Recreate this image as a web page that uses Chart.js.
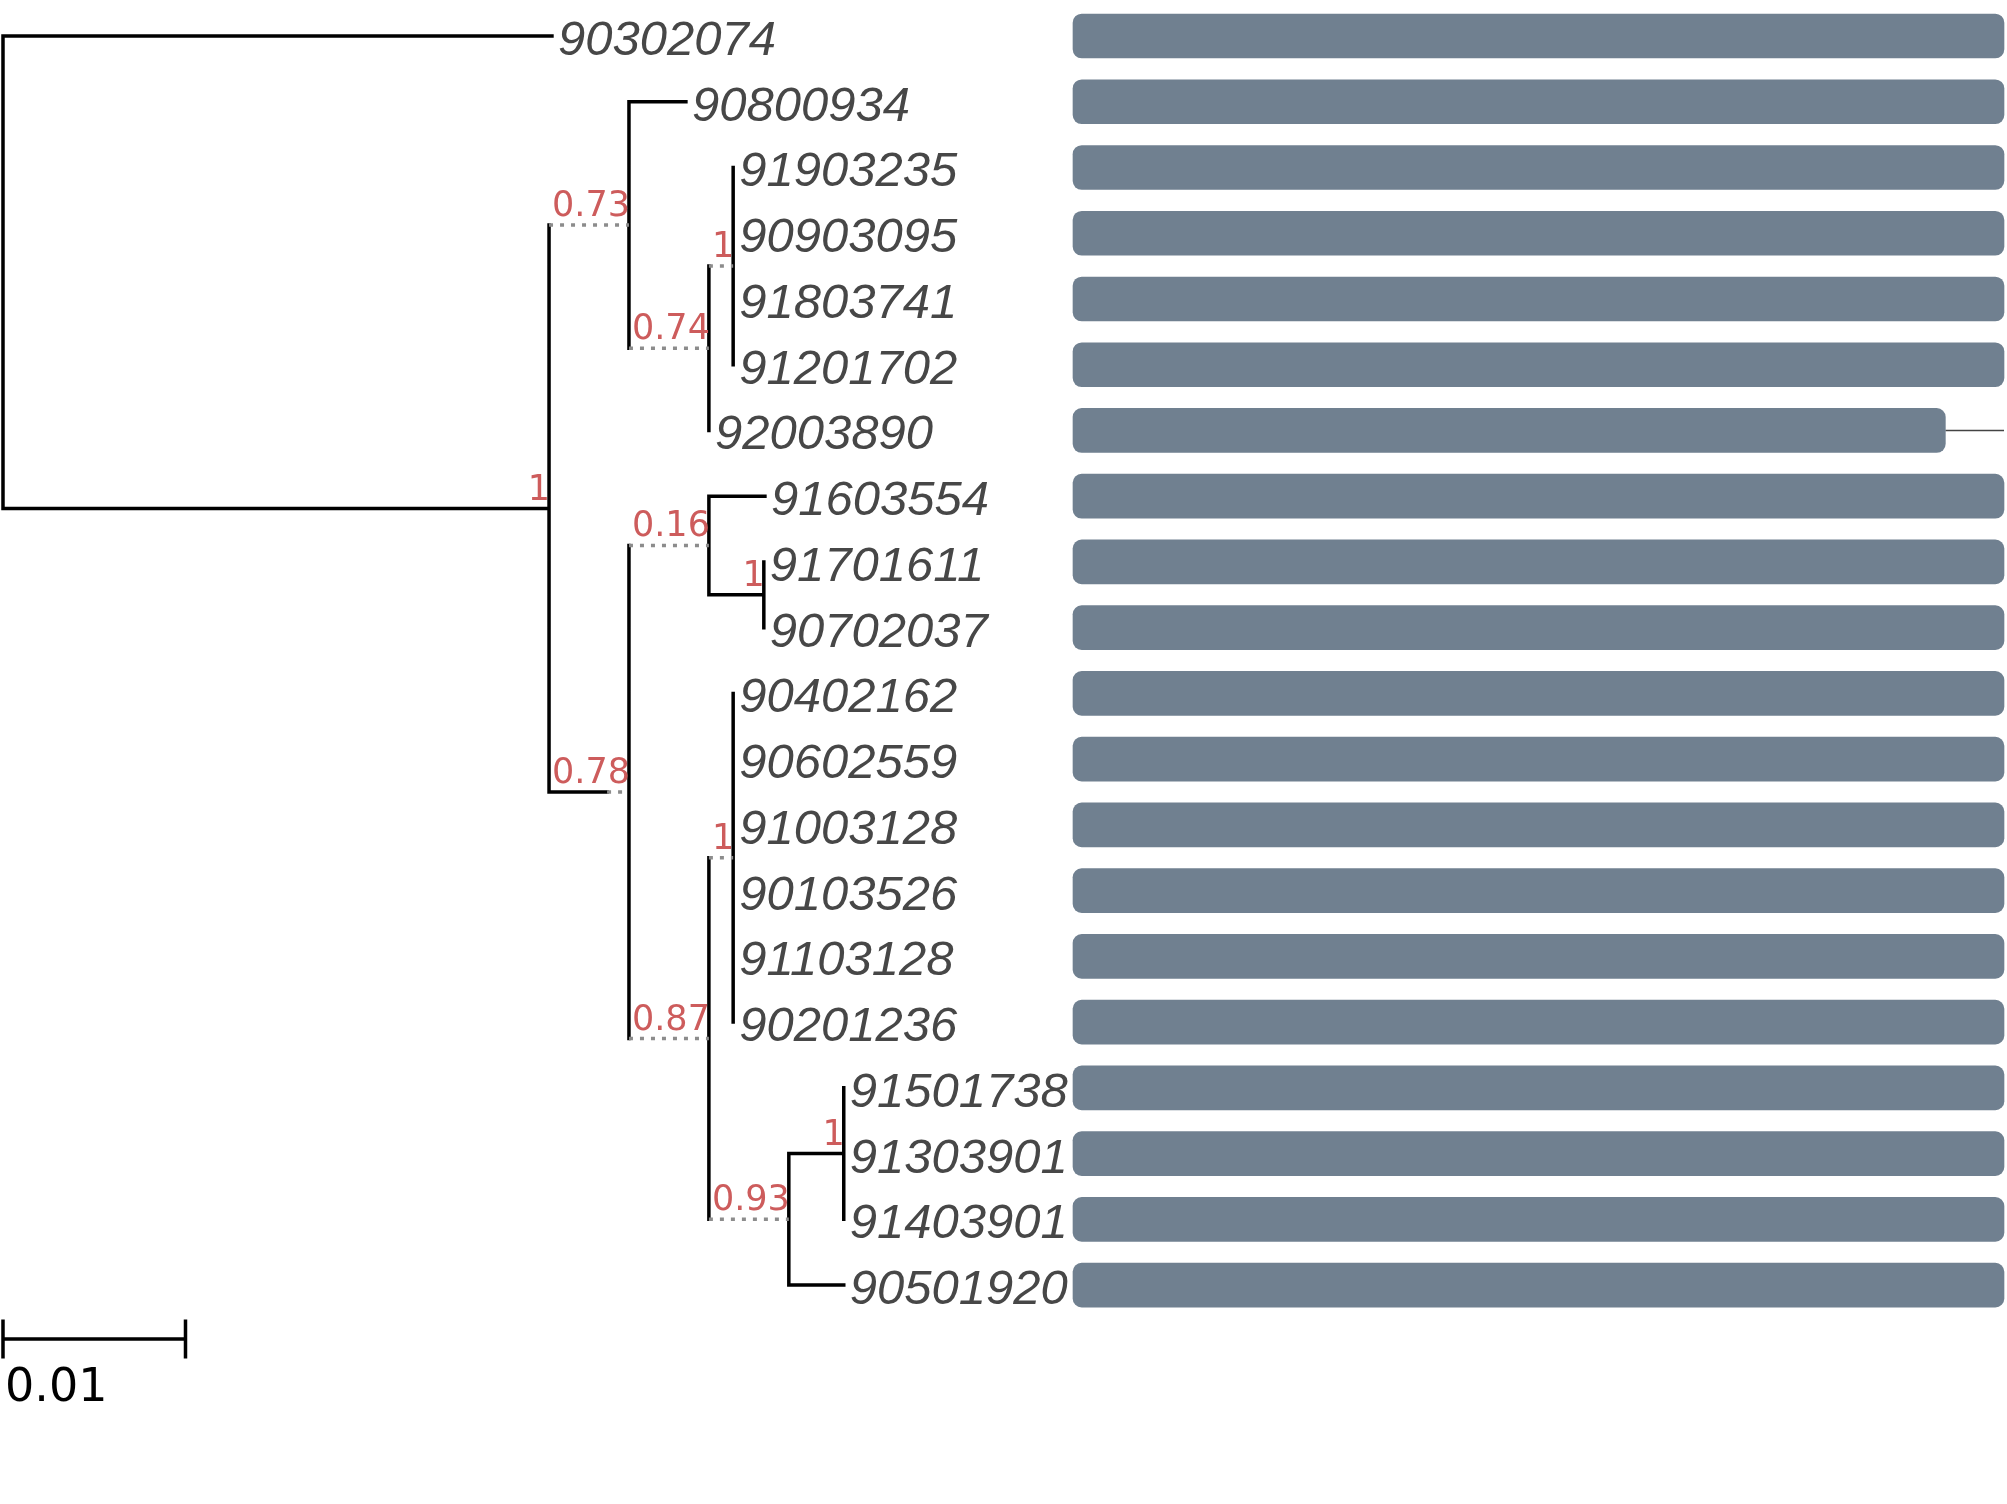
<!DOCTYPE html>
<html>
<head>
<meta charset="utf-8">
<script src="https://cdn.jsdelivr.net/npm/chart.js@4.4.1/dist/chart.umd.min.js"></script>
<style>
  html, body { margin: 0; padding: 0; background: #fff; }
  #wrap { width: 2007px; height: 1504px; position: relative; }
</style>
</head>
<body>
<div id="wrap"><canvas id="tree"></canvas></div>
<script>
// tips, top to bottom
const tipNames = ['90302074', '90800934', '91903235', '90903095', '91803741', '91201702', '92003890',
    '91603554', '91701611', '90702037', '90402162', '90602559', '91003128', '90103526', '91103128',
    '90201236', '91501738', '91303901', '91403901', '90501920'];
const tipParent = ['root', 'B', 'D', 'D', 'D', 'D', 'C', 'F', 'G', 'G', 'I', 'I', 'I', 'I', 'I', 'I',
    'K', 'K', 'K', 'J'];
const tipBranch = [0.03008, 0.00312, 0, 0, 0, 0, 0, 0.00307, 0, 0, 0, 0, 0, 0, 0, 0, 0, 0, 0, 0.00301];

// internal nodes (parents listed before children)
const nodeNames = ['root', 'A', 'B', 'C', 'D', 'E', 'F', 'G', 'H', 'I', 'J', 'K'];
const nodeParent = [null, 'root', 'A', 'B', 'C', 'A', 'E', 'F', 'E', 'H', 'H', 'J'];
const nodeBranch = [0, 0.02992, 0, 0, 0, 0.00318, 0, 0.00301, 0, 0, 0, 0.00301];
const nodeSupport = [null, 1, 0.73, 0.74, 1, 0.78, 0.16, 1, 0.87, 1, 0.93, 1];

// bar beside each tip (fraction of full length)
const barValues = [1, 1, 1, 1, 1, 1, 0.937, 1, 1, 1, 1, 1, 1, 1, 1, 1, 1, 1, 1, 1];
const barMax = 1;

const scaleBarLength = 0.01;
const scaleBarLabel = '0.01';

// axis ranges so the tree, bars and scale bar land where they should
const X_MIN = -0.000164, X_MAX = 0.109808;
const X2_MIN = -1.15252, X2_MAX = 1.003222;
const Y_MIN = -0.5476, Y_MAX = 22.330;
const SCALE_BAR_Y = 19.82;

const W = 2007;
const pxPerUnit = W / (X_MAX - X_MIN);
const SUPPORT_FONT = '35px "DejaVu Sans"';

// width of a support label, in branch length units (the branch is stretched to fit it)
const measureCtx = document.createElement('canvas').getContext('2d');
function supportPad(s) {
    if (s === null) return 0;
    measureCtx.font = SUPPORT_FONT;
    return (measureCtx.measureText(String(s)).width + 2) / pxPerUnit;
}

const nodeX = {}, nodeY = {};
nodeNames.forEach((n, i) => {
    const p = nodeParent[i];
    nodeX[n] = p === null ? 0 : nodeX[p] + Math.max(nodeBranch[i], supportPad(nodeSupport[i]));
});
const tipX = tipNames.map((t, i) => nodeX[tipParent[i]] + tipBranch[i]);

// y of a node = middle of its first and last child
const childSpan = {};
for (let i = nodeNames.length - 1; i >= 0; i--) {
    const n = nodeNames[i];
    const ys = [];
    tipParent.forEach((p, t) => { if (p === n) ys.push(t); });
    nodeParent.forEach((p, k) => { if (p === n) ys.push(nodeY[nodeNames[k]]); });
    const lo = Math.min(...ys), hi = Math.max(...ys);
    childSpan[n] = [lo, hi];
    nodeY[n] = (lo + hi) / 2;
}

const solid = [], dotted = [];
const gap = { x: NaN, y: NaN };
function addChild(parent, x, y, branch) {
    const px = nodeX[parent];
    if (branch > 0) solid.push({ x: px, y: y }, { x: px + branch, y: y }, gap);
    if (x > px + branch + 1e-9) dotted.push({ x: px + branch, y: y }, { x: x, y: y }, gap);
}
tipNames.forEach((t, i) => addChild(tipParent[i], tipX[i], i, tipBranch[i]));
nodeNames.forEach((n, i) => {
    if (nodeParent[i] !== null) addChild(nodeParent[i], nodeX[n], nodeY[n], nodeBranch[i]);
    const [lo, hi] = childSpan[n];
    solid.push({ x: nodeX[n], y: lo }, { x: nodeX[n], y: hi }, gap);
});

const barTails = [];
barValues.forEach((v, i) => {
    if (v < barMax) barTails.push({ x: v, y: i }, { x: barMax, y: i }, gap);
});

const scaleBar = [
    { x: 0, y: SCALE_BAR_Y }, { x: scaleBarLength, y: SCALE_BAR_Y }, gap,
    { x: 0, y: SCALE_BAR_Y - 0.297 }, { x: 0, y: SCALE_BAR_Y + 0.297 }, gap,
    { x: scaleBarLength, y: SCALE_BAR_Y - 0.297 }, { x: scaleBarLength, y: SCALE_BAR_Y + 0.297 }
];

const treeText = {
    id: 'treeText',
    afterDatasetsDraw(chart) {
        const { ctx, scales } = chart;
        const x = scales.x, y = scales.y;
        ctx.save();

        // tip names
        ctx.font = 'italic 49px "Liberation Sans"';
        ctx.fillStyle = '#474747';
        ctx.textAlign = 'left';
        ctx.textBaseline = 'alphabetic';
        tipNames.forEach((t, i) => {
            ctx.fillText(t, x.getPixelForValue(tipX[i]) + 6, y.getPixelForValue(i) + 19);
        });

        // support values
        ctx.font = SUPPORT_FONT;
        ctx.fillStyle = '#cd5c5c';
        ctx.textAlign = 'right';
        nodeNames.forEach((n, i) => {
            if (nodeSupport[i] === null) return;
            ctx.fillText(String(nodeSupport[i]), x.getPixelForValue(nodeX[n]) + 1, y.getPixelForValue(nodeY[n]) - 9);
        });

        // scale label
        ctx.font = '46px "DejaVu Sans"';
        ctx.fillStyle = '#000';
        ctx.textAlign = 'left';
        ctx.fillText(scaleBarLabel, x.getPixelForValue(0) + 2, y.getPixelForValue(SCALE_BAR_Y) + 62);
        ctx.restore();
    }
};

new Chart(document.getElementById('tree'), {
    type: 'scatter',
    data: {
        datasets: [
            {
                type: 'bar',
                indexAxis: 'y',
                xAxisID: 'x2',
                yAxisID: 'y',
                data: barValues.map((v, i) => ({ x: [0, v], y: i })),
                backgroundColor: '#708090',
                borderWidth: 0,
                borderRadius: 9,
                borderSkipped: false,
                barThickness: 44,
                grouped: false,
            },
            {
                data: barTails,
                xAxisID: 'x2',
                showLine: true,
                spanGaps: false,
                pointRadius: 0,
                borderColor: '#444',
                borderWidth: 1.5,
            },
            {
                data: dotted,
                showLine: true,
                spanGaps: false,
                pointRadius: 0,
                borderColor: '#8c8c8c',
                borderWidth: 3.5,
                borderDash: [4, 7],
            },
            {
                data: solid,
                showLine: true,
                spanGaps: false,
                pointRadius: 0,
                borderColor: '#000',
                borderWidth: 3.5,
                borderCapStyle: 'square',
            },
            {
                data: scaleBar,
                showLine: true,
                spanGaps: false,
                pointRadius: 0,
                borderColor: '#000',
                borderWidth: 3.5,
            },
        ]
    },
    options: {
        responsive: true,
        maintainAspectRatio: false,
        animation: false,
        events: [],
        layout: { padding: 0 },
        plugins: {
            legend: { display: false },
            tooltip: { enabled: false },
        },
        scales: {
            x: { type: 'linear', display: false, min: X_MIN, max: X_MAX, offset: false },
            x2: { type: 'linear', display: false, min: X2_MIN, max: X2_MAX, offset: false },
            y: { type: 'linear', display: false, reverse: true, min: Y_MIN, max: Y_MAX, offset: false },
        }
    },
    plugins: [treeText]
});
</script>
</body>
</html>
